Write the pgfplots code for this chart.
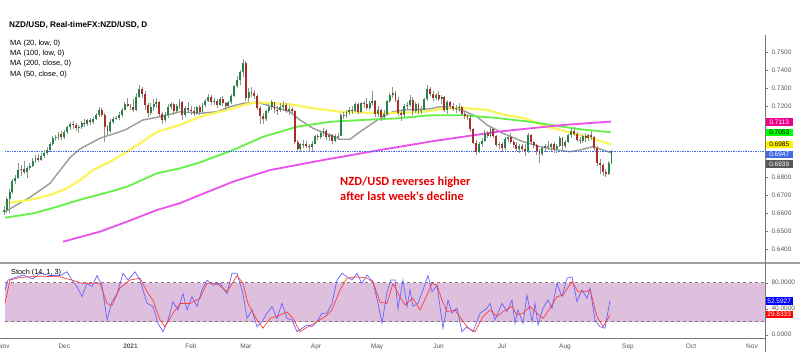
\documentclass[border=0pt]{standalone}
\usepackage{pgfplots}
\usepackage{pgfplotstable}
\pgfplotsset{compat=1.18}
\usepackage{fontspec}
\setmainfont{Liberation Sans}
\newfontfamily\calibri{Carlito}

\definecolor{cup}{RGB}{40,130,75}
\definecolor{cdn}{RGB}{170,45,40}
\definecolor{wick}{RGB}{140,150,140}
\definecolor{magray}{RGB}{155,155,155}
\definecolor{mayellow}{RGB}{250,245,90}
\definecolor{magreen}{RGB}{100,240,70}
\definecolor{mamagenta}{RGB}{235,80,235}
\definecolor{band}{RGB}{222,192,222}
\definecolor{stk}{RGB}{100,100,255}
\definecolor{std}{RGB}{255,60,60}
\definecolor{pblue}{RGB}{65,105,225}
\definecolor{axgray}{RGB}{120,120,120}
\definecolor{txtgray}{RGB}{90,90,90}

\pgfplotstableread{
i o h l c
0 .6610 .6640 .6590 .6620
1 .6620 .6690 .6605 .6680
2 .6680 .6735 .6600 .6720
3 .6720 .6790 .6710 .6780
4 .6780 .6815 .6765 .6800
5 .6800 .6880 .6790 .6840
6 .6840 .6870 .6810 .6850
7 .6850 .6890 .6820 .6830
8 .6830 .6865 .6800 .6855
9 .6855 .6880 .6840 .6865
10 .6865 .6910 .6860 .6895
11 .6895 .6925 .6880 .6910
12 .6910 .6930 .6885 .6900
13 .6900 .6935 .6895 .6920
14 .6920 .6955 .6910 .6940
15 .6940 .6970 .6925 .6955
16 .6955 .7000 .6945 .6990
17 .6990 .7030 .6975 .7020
18 .7020 .7040 .7005 .7025
19 .7025 .7055 .7010 .7045
20 .7045 .7060 .7010 .7025
21 .7025 .7065 .7015 .7055
22 .7055 .7090 .7045 .7080
23 .7080 .7110 .7065 .7100
24 .7100 .7115 .7070 .7095
25 .7095 .7105 .7060 .7075
26 .7075 .7095 .7050 .7085
27 .7085 .7115 .7070 .7105
28 .7105 .7125 .7085 .7100
29 .7100 .7130 .7090 .7120
30 .7120 .7135 .7095 .7110
31 .7110 .7140 .7100 .7130
32 .7130 .7160 .7120 .7150
33 .7150 .7195 .7140 .7180
34 .7180 .7190 .7140 .7150
35 .7150 .7160 .7000 .7085
36 .7085 .7095 .7040 .7060
37 .7060 .7125 .7050 .7110
38 .7110 .7140 .7100 .7130
39 .7130 .7145 .7120 .7135
40 .7135 .7165 .7120 .7150
41 .7150 .7190 .7140 .7180
42 .7180 .7225 .7175 .7210
43 .7210 .7245 .7195 .7200
44 .7200 .7210 .7180 .7195
45 .7195 .7240 .7165 .7175
46 .7175 .7270 .7170 .7250
47 .7250 .7315 .7245 .7295
48 .7295 .7305 .7245 .7265
49 .7265 .7285 .7180 .7205
50 .7205 .7215 .7140 .7160
51 .7160 .7215 .7150 .7195
52 .7195 .7240 .7170 .7210
53 .7210 .7245 .7190 .7225
54 .7225 .7230 .7140 .7155
55 .7155 .7165 .7100 .7120
56 .7120 .7165 .7110 .7150
57 .7150 .7210 .7135 .7195
58 .7195 .7225 .7180 .7210
59 .7210 .7215 .7150 .7170
60 .7170 .7210 .7160 .7200
61 .7200 .7240 .7185 .7225
62 .7225 .7230 .7120 .7150
63 .7150 .7200 .7140 .7190
64 .7190 .7220 .7165 .7180
65 .7180 .7200 .7150 .7170
66 .7170 .7195 .7145 .7160
67 .7160 .7200 .7150 .7195
68 .7195 .7205 .7150 .7165
69 .7165 .7215 .7160 .7205
70 .7205 .7240 .7195 .7230
71 .7230 .7265 .7220 .7250
72 .7250 .7260 .7205 .7220
73 .7220 .7245 .7205 .7230
74 .7230 .7240 .7190 .7205
75 .7205 .7250 .7200 .7240
76 .7240 .7255 .7200 .7215
77 .7215 .7225 .7180 .7200
78 .7200 .7230 .7190 .7220
79 .7220 .7265 .7210 .7255
80 .7255 .7320 .7250 .7310
81 .7310 .7365 .7300 .7345
82 .7345 .7400 .7320 .7390
83 .7390 .7465 .7360 .7440
84 .7440 .7450 .7230 .7245
85 .7245 .7300 .7225 .7280
86 .7280 .7305 .7250 .7270
87 .7270 .7290 .7240 .7255
88 .7255 .7265 .7175 .7190
89 .7190 .7200 .7100 .7145
90 .7145 .7160 .7100 .7125
91 .7125 .7180 .7115 .7170
92 .7170 .7210 .7160 .7195
93 .7195 .7235 .7180 .7220
94 .7220 .7225 .7160 .7180
95 .7180 .7200 .7150 .7175
96 .7175 .7215 .7165 .7195
97 .7195 .7230 .7170 .7205
98 .7205 .7215 .7160 .7170
99 .7170 .7200 .7150 .7185
100 .7185 .7195 .7160 .7170
101 .7170 .7175 .6990 .7000
102 .7000 .7010 .6945 .6960
103 .6960 .6995 .6945 .6985
104 .6985 .7010 .6965 .6990
105 .6990 .7005 .6965 .6975
106 .6975 .6990 .6945 .6970
107 .6970 .7005 .6945 .6990
108 .6990 .7040 .6985 .7030
109 .7030 .7045 .7010 .7025
110 .7025 .7060 .7015 .7050
111 .7050 .7075 .7035 .7060
112 .7060 .7070 .7010 .7025
113 .7025 .7050 .7005 .7040
114 .7040 .7045 .6990 .7005
115 .7005 .7045 .7000 .7030
116 .7030 .7050 .7010 .7035
117 .7035 .7160 .7030 .7150
118 .7150 .7165 .7130 .7145
119 .7145 .7175 .7135 .7165
120 .7165 .7195 .7150 .7180
121 .7180 .7200 .7155 .7170
122 .7170 .7220 .7165 .7210
123 .7210 .7215 .7155 .7165
124 .7165 .7225 .7160 .7215
125 .7215 .7230 .7190 .7210
126 .7210 .7245 .7180 .7190
127 .7190 .7230 .7175 .7215
128 .7215 .7285 .7205 .7230
129 .7230 .7235 .7140 .7155
130 .7155 .7200 .7140 .7180
131 .7180 .7185 .7115 .7140
132 .7140 .7175 .7130 .7155
133 .7155 .7235 .7150 .7230
134 .7230 .7275 .7215 .7260
135 .7260 .7305 .7245 .7270
136 .7270 .7285 .7220 .7235
137 .7235 .7250 .7145 .7160
138 .7160 .7175 .7115 .7150
139 .7150 .7210 .7140 .7200
140 .7200 .7225 .7180 .7205
141 .7205 .7260 .7195 .7235
142 .7235 .7250 .7150 .7170
143 .7170 .7220 .7160 .7210
144 .7210 .7215 .7155 .7170
145 .7170 .7200 .7155 .7180
146 .7180 .7245 .7175 .7240
147 .7240 .7315 .7230 .7295
148 .7295 .7305 .7255 .7265
149 .7265 .7285 .7230 .7245
150 .7245 .7270 .7235 .7260
151 .7260 .7285 .7230 .7240
152 .7240 .7260 .7210 .7250
153 .7250 .7255 .7165 .7175
154 .7175 .7235 .7155 .7225
155 .7225 .7230 .7185 .7200
156 .7200 .7215 .7170 .7185
157 .7185 .7205 .7160 .7190
158 .7190 .7215 .7165 .7195
159 .7195 .7200 .7145 .7155
160 .7155 .7170 .7130 .7145
161 .7145 .7155 .7120 .7135
162 .7135 .7150 .7055 .7070
163 .7070 .7075 .6985 .6995
164 .6995 .7010 .6925 .6945
165 .6945 .7000 .6935 .6990
166 .6990 .7020 .6970 .7005
167 .7005 .7065 .7000 .7050
168 .7050 .7060 .7020 .7035
169 .7035 .7085 .7025 .7070
170 .7070 .7075 .7020 .7030
171 .7030 .7040 .6970 .6980
172 .6980 .7000 .6960 .6990
173 .6990 .7000 .6945 .6965
174 .6965 .7025 .6955 .7015
175 .7015 .7035 .7000 .7025
176 .7025 .7050 .6990 .7000
177 .7000 .7010 .6965 .6980
178 .6980 .7000 .6950 .6960
179 .6960 .6985 .6935 .6975
180 .6975 .6990 .6945 .6960
181 .6960 .6985 .6920 .6950
182 .6950 .7050 .6940 .7040
183 .7040 .7045 .6990 .7000
184 .7000 .7005 .6965 .6980
185 .6980 .6985 .6925 .6950
186 .6950 .6960 .6880 .6930
187 .6930 .6975 .6920 .6965
188 .6965 .6990 .6945 .6975
189 .6975 .7005 .6955 .6970
190 .6970 .6995 .6950 .6985
191 .6985 .7000 .6940 .6960
192 .6960 .6985 .6940 .6975
193 .6975 .7030 .6970 .7020
194 .7020 .7025 .6955 .6975
195 .6975 .7010 .6965 .7000
196 .7000 .7045 .6995 .7040
197 .7040 .7075 .7020 .7060
198 .7060 .7085 .7035 .7045
199 .7045 .7055 .7000 .7010
200 .7010 .7025 .6990 .7005
201 .7005 .7040 .6995 .7030
202 .7030 .7050 .7000 .7020
203 .7020 .7045 .7005 .7040
204 .7040 .7060 .7010 .7025
205 .7025 .7030 .6950 .6965
206 .6965 .6975 .6865 .6880
207 .6880 .6905 .6820 .6870
208 .6870 .6880 .6810 .6830
209 .6830 .6850 .6805 .6820
210 .6820 .6890 .6815 .6880
211 .6880 .6955 .6875 .6947
}\candles

\begin{document}
\begin{tikzpicture}[x=1pt,y=1pt]
\useasboundingbox (0,0) rectangle (800,352);
\fill[white] (0,0) rectangle (800,352);

% ---------------- price pane ----------------
\begin{axis}[
  at={(0pt,90pt)}, anchor=south west, scale only axis,
  width=765pt, height=227pt,
  xmin=0, xmax=765, ymin=0.63285, ymax=0.75967,
  axis x line=none, axis y line*=right,
  y axis line style={draw=axgray, -},
  ytick={0.64,0.65,0.66,0.67,0.68,0.72,0.73,0.74,0.75},
  yticklabel style={font=\fontsize{6.5}{7}\selectfont, text=txtgray,
     /pgf/number format/fixed, /pgf/number format/fixed zerofill,
     /pgf/number format/precision=4, /pgf/number format/assume math mode=true},
  ytick style={draw=axgray}, tick align=outside, major tick length=3pt,
  scaled y ticks=false, clip=true,
]
% moving averages
\addplot[magray, line width=1.4pt] coordinates {
(5,0.6610)(30,0.6690)(50,0.6768)(70,0.6912)(80,0.6960)(100,0.7020)(115,0.7047)(125,0.7066)(143,0.7122)(160,0.7140)(180,0.7168)(200,0.7159)(217,0.7168)(230,0.7196)(243,0.7215)(257,0.7221)(270,0.7200)(290,0.7168)(300,0.7122)(313,0.7075)(330,0.7038)(340,0.7014)(350,0.7014)(360,0.7056)(370,0.7094)(380,0.7131)(393,0.7168)(403,0.7178)(430,0.7184)(440,0.7196)(450,0.7194)(463,0.7175)(477,0.7140)(487,0.7094)(503,0.7047)(523,0.7001)(540,0.6973)(557,0.6954)(570,0.6945)(580,0.6954)(593,0.6973)(603,0.6954)(611,0.6939)};
\addplot[mayellow, line width=2.2pt] coordinates {
(5,0.6657)(30,0.6675)(50,0.6703)(67,0.6740)(80,0.6786)(93,0.6842)(110,0.6889)(127,0.6945)(140,0.6992)(157,0.7056)(180,0.7094)(200,0.7140)(220,0.7168)(233,0.7187)(250,0.7215)(260,0.7220)(275,0.7215)(290,0.7209)(313,0.7187)(340,0.7168)(380,0.7160)(420,0.7165)(440,0.7182)(460,0.7190)(487,0.7178)(505,0.7150)(523,0.7133)(547,0.7085)(580,0.7038)(597,0.7010)(611,0.6985)};
\addplot[magreen, line width=1.8pt] coordinates {
(5,0.6576)(33,0.6600)(57,0.6637)(73,0.6665)(85,0.6684)(110,0.6721)(127,0.6749)(157,0.6824)(180,0.6852)(200,0.6885)(233,0.6954)(263,0.7028)(297,0.7084)(330,0.7112)(363,0.7122)(397,0.7131)(430,0.7148)(463,0.7148)(497,0.7133)(530,0.7112)(563,0.7084)(580,0.7070)(611,0.7053)};
\addplot[mamagenta, line width=1.8pt] coordinates {
(63,0.6442)(100,0.6498)(127,0.6554)(157,0.6619)(180,0.6657)(200,0.6703)(233,0.6777)(270,0.6842)(323,0.6898)(380,0.6954)(430,0.7001)(463,0.7028)(497,0.7056)(530,0.7075)(563,0.7094)(611,0.7113)};
% last price line
\addplot[pblue, densely dotted, line width=0.7pt] coordinates {(5,0.6947)(765,0.6947)};
% candle wicks
\addplot[draw=none, mark=none, forget plot,
  error bars/.cd, y dir=plus, y explicit, error mark=none,
  error bar style={draw=wick, solid, line width=0.6pt}]
  table[x expr=3.8+2.88*\thisrow{i}, y=l,
        y error plus expr=\thisrow{h}-\thisrow{l}] {\candles};
% up bodies
\addplot[draw=none, mark=none, forget plot,
  error bars/.cd, y dir=plus, y explicit, error mark=none,
  error bar style={draw=cup, solid, line width=1.9pt}]
  table[x expr=3.8+2.88*\thisrow{i},
        y expr={\thisrow{c}>=\thisrow{o} ? \thisrow{o} : nan},
        y error plus expr={max(abs(\thisrow{c}-\thisrow{o}),0.0003)}] {\candles};
% down bodies
\addplot[draw=none, mark=none, forget plot,
  error bars/.cd, y dir=plus, y explicit, error mark=none,
  error bar style={draw=cdn, solid, line width=1.9pt}]
  table[x expr=3.8+2.88*\thisrow{i},
        y expr={\thisrow{c}<\thisrow{o} ? \thisrow{c} : nan},
        y error plus expr={max(abs(\thisrow{c}-\thisrow{o}),0.0003)}] {\candles};
\end{axis}

% ---------------- stochastic pane ----------------
\begin{axis}[
  at={(0pt,14pt)}, anchor=south west, scale only axis,
  width=765pt, height=75pt,
  xmin=0, xmax=765, ymin=-5.08, ymax=110.3,
  axis x line*=bottom, axis y line*=right,
  x axis line style={draw=axgray, -}, y axis line style={draw=axgray, -},
  ytick={0,40,80},
  yticklabel style={font=\fontsize{6.5}{7}\selectfont, text=txtgray,
     /pgf/number format/fixed, /pgf/number format/fixed zerofill,
     /pgf/number format/precision=4, /pgf/number format/assume math mode=true},
  ytick style={draw=axgray}, tick align=outside, major tick length=3pt,
  xtick={3.8,64.3,130.5,191,246,316,377,438.5,502,565,628,691,752},
  xticklabels={Nov,Dec,\textbf{2021},Feb,Mar,Apr,May,Jun,Jul,Aug,Sep,Oct,Nov},
  xticklabel style={font=\fontsize{6.5}{7}\selectfont, text=txtgray, yshift=1pt},
  xtick style={draw=none},
  clip=true,
]
\addplot[fill=band, draw=none] coordinates {(5,20)(765,20)(765,80)(5,80)} -- cycle;
\addplot[axgray, dashed, line width=0.6pt] coordinates {(5,20)(765,20)};
\addplot[axgray, dashed, line width=0.6pt] coordinates {(5,80)(765,80)};
\addplot[stk, line width=0.7pt] coordinates {
(5,68.8)(8,84)(13,87)(23,91.8)(33,86)(40,94.5)(50,91)(60,91)(67,96.7)(72,84)(77,73.8)(82,58.5)(87,79)(92,73.8)(97,91)(102,76)(107,22.6)(112,50.8)(117,63)(123,94.5)(128,84)(135,96.7)(140,84)(147,48.3)(153,43.5)(158,17.5)(163,4.6)(168,22.6)(173,50.8)(178,38)(183,63)(187,38)(192,58.5)(197,43.5)(202,69)(207,84)(213,76)(220,79)(227,63)(232,94.5)(237,94.5)(243,63)(247,25.2)(252,38)(257,12.3)(262,20)(267,33)(272,43.5)(277,25)(282,48.3)(287,25)(292,22.6)(297,4.6)(302,10)(307,15)(312,12.3)(317,20)(322,33)(327,33)(332,48.3)(337,84)(342,94.5)(347,89)(352,84)(357,94.5)(362,79)(367,91.8)(373,81.5)(378,48.3)(382,17.5)(387,66)(391,84)(395,84)(398,40)(403,84)(407,43.5)(410,69)(413,43.5)(418,48.3)(423,69)(428,91)(432,66)(437,76)(443,9.8)(448,53.3)(452,33)(457,40.8)(462,4.6)(467,12.3)(473,4.6)(480,33)(487,40.8)(490,48.3)(495,22.6)(502,48.3)(507,35.6)(512,53.3)(515,17.5)(518,38)(523,17.5)(527,61)(532,20)(535,48.3)(538,15)(543,40.8)(548,53.3)(552,40.8)(557,79)(562,58.5)(567,87)(572,89)(577,51)(582,69)(587,56)(590,71.5)(595,22.6)(600,12.3)(605,10)(610,52.6)};
\addplot[std, line width=0.7pt] coordinates {
(5,48.3)(10,84)(20,88)(40,90)(60,89)(72,84)(82,79)(92,79)(100,79)(107,48)(112,45)(120,72)(130,84)(140,87)(147,66)(153,53)(160,22.6)(165,12.3)(173,33)(180,48)(190,48)(200,56)(207,79)(217,79)(227,66)(237,91)(243,79)(248,48)(257,22.6)(263,10)(270,25)(280,30)(287,35)(293,25)(300,4.6)(308,12.3)(317,20)(327,30)(332,38)(340,69)(347,87)(357,89)(367,87)(373,81)(380,50)(387,48)(393,79)(400,58)(405,46)(413,56)(420,38)(427,61)(432,79)(437,76)(442,53)(447,35.6)(455,38)(462,22.6)(468,10)(475,4.6)(483,28)(490,38)(497,28)(503,35.6)(512,43.5)(517,30)(523,33)(530,43.5)(537,33)(543,25)(550,40.8)(557,58.5)(563,61)(572,82)(578,66)(585,66)(590,69)(597,28)(603,12.3)(610,29.8)};
\end{axis}

% pane separators and right scale line
\draw[axgray!70, line width=1.2pt] (0,89) -- (800,89);
\draw[axgray, line width=0.6pt] (765,0) -- (765,317);

% price scale value boxes
\tikzset{vbox/.style={anchor=west, inner sep=0pt, minimum width=27pt, minimum height=7.6pt,
  font=\fontsize{6.5}{7}\selectfont}}
\node[vbox, fill=magenta, text=white] at (765.5,352-122) {0.7113};
\node[vbox, fill=green, text=black] at (765.5,352-132.5) {0.7053};
\node[vbox, fill=yellow, text=black] at (765.5,352-144.5) {0.6985};
\node[vbox, fill=pblue, text=white] at (765.5,352-154.5) {0.6947};
\node[vbox, fill=black!65, text=white] at (765.5,352-164) {0.6939};
\node[vbox, fill=blue, text=white] at (765.5,352-301) {52.5927};
\node[vbox, fill=red, text=white] at (765.5,352-314.5) {29.8333};

% legends
\node[anchor=west, inner sep=0pt, font=\bfseries\fontsize{8.2}{9}\selectfont] at (9,352-25) {NZD/USD, Real-timeFX:NZD/USD, D};
\node[anchor=west, inner sep=0pt, font=\fontsize{7.5}{8}\selectfont] at (10,352-44) {MA (20, low, 0)};
\node[anchor=west, inner sep=0pt, font=\fontsize{7.5}{8}\selectfont] at (10,352-54) {MA (100, low, 0)};
\node[anchor=west, inner sep=0pt, font=\fontsize{7.5}{8}\selectfont] at (10,352-64) {MA (200, close, 0)};
\node[anchor=west, inner sep=0pt, font=\fontsize{7.5}{8}\selectfont] at (10,352-75) {MA (50, close, 0)};
\node[anchor=west, inner sep=0pt, font=\fontsize{7.3}{8}\selectfont] at (11,352-273) {Stoch (14, 1, 3)};

% annotation
\node[anchor=north west, inner sep=0pt, align=left, text=red!90!black,
  font=\calibri\bfseries\fontsize{12.4}{15}\selectfont] at (340,352-177) {NZD/USD reverses higher\\after last week's decline};
\end{tikzpicture}
\end{document}
